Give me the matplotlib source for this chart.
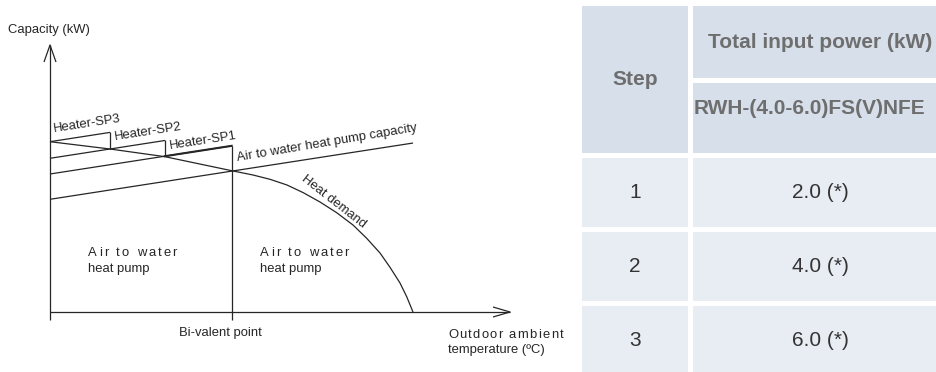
import matplotlib
matplotlib.use("Agg")
import matplotlib.pyplot as plt
import numpy as np
from matplotlib.patches import Rectangle
from matplotlib.transforms import ScaledTranslation

plt.rcParams["font.family"] = ["Liberation Sans", "DejaVu Sans"]

# ── Diagram data (arbitrary capacity / temperature units) ─────────────────────
X_MAX = 460          # end of temperature axis
Y_MAX = 267          # end of capacity axis

# heat demand curve, falling with outdoor temperature
DEMAND_T = [0, 60, 115, 181.7, 203, 220, 237, 253.3, 270, 286.7, 303,
            316.7, 330, 340, 350, 356.7, 363]
DEMAND_Q = [170.3, 163, 155.3, 141.3, 137, 132.7, 127, 119.3, 110, 99.3, 87,
            73.7, 59, 44.7, 29, 15.3, 0]

# heat pump capacity line and the three heater steps stacked on top of it
CAP_SLOPE = 0.155
CAP_NAMES = ["Air to water heat pump capacity", "Heater-SP1", "Heater-SP2", "Heater-SP3"]
CAP_Q0 = [112.7, 138.0, 153.7, 170.3]       # capacity at left end
CAP_T_END = [363, 181.7, 115, 60]           # where each line stops

BIVALENT_T = 181.7

# ── Table data ────────────────────────────────────────────────────────────────
STEP_HEADER = "Step"
POWER_HEADER = "Total input power (kW)"
MODEL = "RWH-(4.0-6.0)FS(V)NFE"
STEPS = [1, 2, 3]
POWER_KW = [2.0, 4.0, 6.0]

LINE = "#262626"
TXT = "#262626"
HEAD_FILL = "#d6dfea"
BODY_FILL = "#e8edf4"
HEAD_TXT = "#6e6e6e"
BODY_TXT = "#333333"
FS = 9.4

fig = plt.figure(figsize=(9.36, 3.72), dpi=100)

# ── Table (figure pixel coordinates) ──────────────────────────────────────────
tab = fig.add_axes([0, 0, 1, 1])
tab.set_xlim(0, 936)
tab.set_ylim(372, 0)
tab.axis("off")

left, top, gap = 582, 6, 5
col_w = [106, 254]
row_h = [72, 70, 69, 69, 70]
row_top = [top]
for h in row_h[:-1]:
    row_top.append(row_top[-1] + h + gap)
col_left = [left, left + col_w[0] + gap]

def cell(r0, r1, c, color):
    y0 = row_top[r0]
    y1 = row_top[r1] + row_h[r1]
    tab.add_patch(Rectangle((col_left[c], y0), col_w[c], y1 - y0,
                            facecolor=color, edgecolor="none"))
    return col_left[c] + col_w[c] / 2, (y0 + y1) / 2

cx, cy = cell(0, 1, 0, HEAD_FILL)
tab.text(cx, cy, STEP_HEADER, ha="center", va="center", fontsize=15,
         fontweight="bold", color=HEAD_TXT)
cx, cy = cell(0, 0, 1, HEAD_FILL)
tab.text(cx, cy, POWER_HEADER, ha="center", va="center", fontsize=15,
         fontweight="bold", color=HEAD_TXT)
cx, cy = cell(1, 1, 1, HEAD_FILL)
tab.text(col_left[1] + 1, row_top[1] + 25, MODEL, ha="left", va="center",
         fontsize=15, fontweight="bold", color=HEAD_TXT)

for i, (step, kw) in enumerate(zip(STEPS, POWER_KW)):
    r = i + 2
    cx, cy = cell(r, r, 0, BODY_FILL)
    tab.text(cx, cy, str(step), ha="center", va="center", fontsize=15, color=BODY_TXT)
    cx, cy = cell(r, r, 1, BODY_FILL)
    tab.text(cx, cy, f"{kw:.1f} (*)", ha="center", va="center", fontsize=15, color=BODY_TXT)

# ── Diagram ───────────────────────────────────────────────────────────────────
ax = fig.add_axes([50 / 936, 60 / 372, X_MAX / 936, Y_MAX / 372])
ax.set_xlim(0, X_MAX)
ax.set_ylim(0, Y_MAX)
ax.axis("off")

kw_line = dict(color=LINE, lw=0.9, clip_on=False, solid_capstyle="butt")
tick = 8

# axes with open arrow heads
ax.plot([0, 0], [-tick, Y_MAX], **kw_line)
ax.plot([-6, 0, 6], [Y_MAX - 17, Y_MAX, Y_MAX - 17], **kw_line)
ax.plot([0, X_MAX], [0, 0], **kw_line)
ax.plot([X_MAX - 17, X_MAX, X_MAX - 17], [5, 0, -5], **kw_line)

# capacity lines
def cap(i, t):
    return CAP_Q0[i] + CAP_SLOPE * np.asarray(t)

for i in range(len(CAP_Q0)):
    ax.plot([0, CAP_T_END[i]], cap(i, [0, CAP_T_END[i]]), **kw_line)
# heater step 1 top edge drawn heavier
ax.plot([CAP_T_END[2], CAP_T_END[1]], cap(1, [CAP_T_END[2], CAP_T_END[1]]),
        color=LINE, lw=1.5, clip_on=False)

# vertical step edges: each heater step drops to the line below it
for i in (3, 2):
    t = CAP_T_END[i]
    ax.plot([t, t], [cap(i - 1, t), cap(i, t)], **kw_line)
ax.plot([BIVALENT_T, BIVALENT_T], [-tick, cap(1, BIVALENT_T)], **kw_line)

# heat demand
ax.plot(DEMAND_T, DEMAND_Q, solid_joinstyle="round", **kw_line)

# labels
ang = np.degrees(np.arctan(CAP_SLOPE))
lab = dict(fontsize=FS, color=TXT, rotation_mode="anchor", ha="left",
           va="baseline", clip_on=False)
ax.text(4, 180.3, CAP_NAMES[3], rotation=ang, **lab)
ax.text(65, 172, CAP_NAMES[2], rotation=ang, **lab)
ax.text(120, 163, CAP_NAMES[1], rotation=ang, **lab)
ax.text(187.3, 151, CAP_NAMES[0], rotation=ang + 0.7, **lab)
ax.text(283.3, 110.3, "Heat demand", rotation=-38, fontsize=FS, color=TXT,
        ha="center", va="center", rotation_mode="anchor")

ax.text(-42, 282, "Capacity (kW)", fontsize=FS, color=TXT, ha="left",
        va="center", clip_on=False)
ax.text(170.5, -24, "Bi-valent point", fontsize=FS, color=TXT, ha="center",
        va="baseline", clip_on=False)
ax.text(398, -41, "temperature (ºC)", fontsize=FS, color=TXT, ha="left",
        va="baseline", clip_on=False)

renderer = fig.canvas.get_renderer()


def spaced_text(x, y, s, track_px, **kw):
    """Draw s one glyph at a time with extra letter spacing."""
    def width(txt):
        t = ax.text(0, 0, txt, **kw)
        w = t.get_window_extent(renderer).width
        t.remove()
        return w
    bar = width("|")
    for i, ch in enumerate(s):
        if ch == " ":
            continue
        off = (width(s[:i] + "|") - bar if i else 0) + i * track_px
        tr = ax.transData + ScaledTranslation(off / fig.dpi, 0, fig.dpi_scale_trans)
        ax.text(x, y, ch, transform=tr, **kw)


sp = dict(fontsize=FS, color=TXT, ha="left", va="baseline", clip_on=False)
for t0 in (38, 210):
    spaced_text(t0, 56, "Air to water", 2.1, **sp)
    ax.text(t0, 40, "heat pump", **sp)
spaced_text(398, -26, "Outdoor ambient", 1.3, **sp)

fig.savefig("out.png", dpi=100)
